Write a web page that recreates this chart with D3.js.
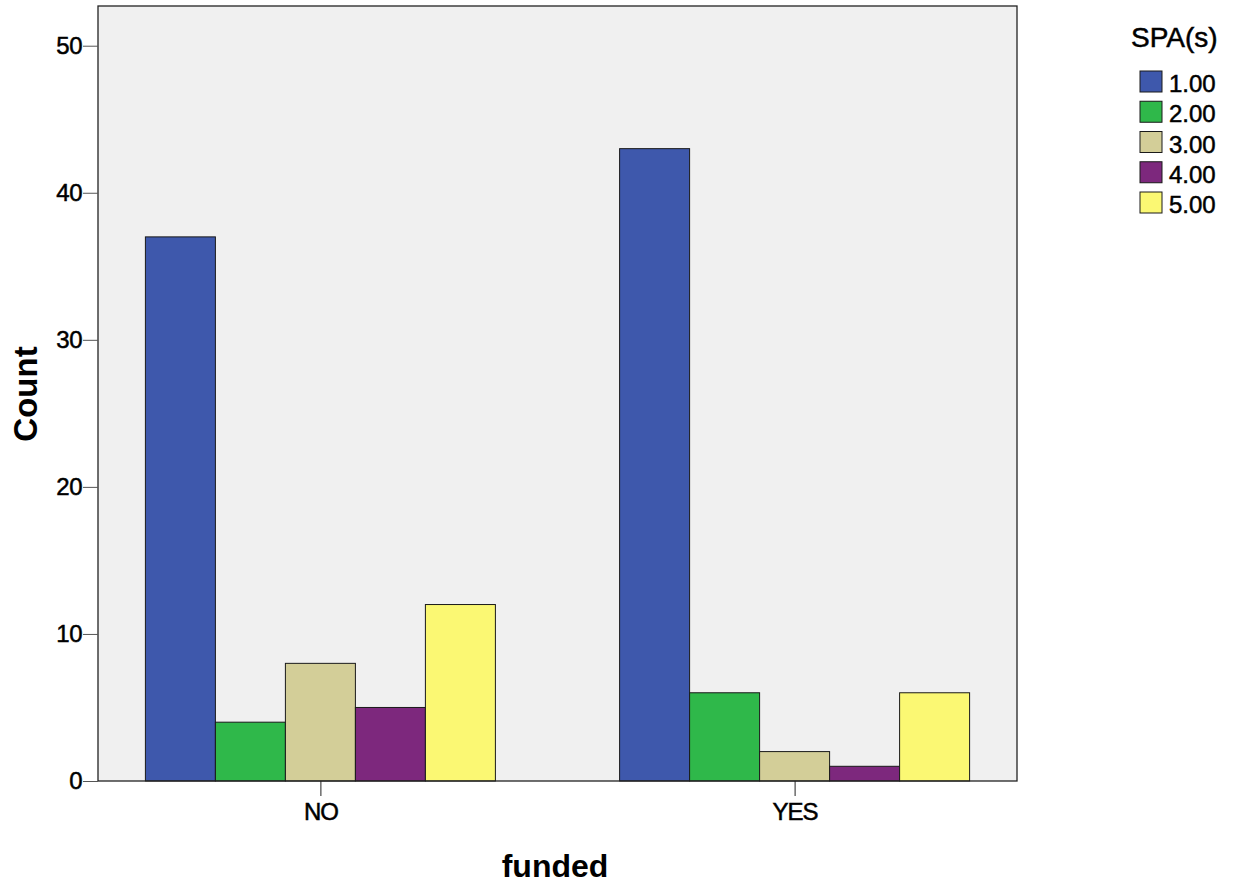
<!DOCTYPE html>
<html><head><meta charset="utf-8">
<script src="https://cdn.jsdelivr.net/npm/d3@7"></script>
<style>body{margin:0;background:#fff;} text{font-family:"Liberation Sans",Arial,sans-serif;}</style>
</head><body>
<svg id="c" width="1234" height="886"></svg>
<script>
const categories = ["NO", "YES"];
const seriesNames = ["1.00", "2.00", "3.00", "4.00", "5.00"];
const valuesNO = [37, 4, 8, 5, 12];
const valuesYES = [43, 6, 2, 1, 6];
const colors = ["#3e58ac", "#2fb84a", "#d3ce98", "#7d287d", "#fbf873"];
const yTicks = [0, 10, 20, 30, 40, 50];

const data = categories.map((c, i) => ({cat: c, vals: [valuesNO, valuesYES][i]}));

const svg = d3.select("#c");
const L = 98, R = 1017, T = 6, B = 781;
const FF = "'Liberation Sans',Arial,sans-serif";

const y = d3.scaleLinear().domain([0, 52.7]).range([B, T]);
const x = d3.scalePoint().domain(categories).range([L, R]).padding(0.469);
const xs = d3.scaleBand().domain(seriesNames).range([-175, 175]);

svg.append("rect").attr("x", L).attr("y", T).attr("width", R - L).attr("height", B - T)
  .attr("fill", "#f0f0f0");

const g = svg.append("g");
data.forEach(d => {
  g.selectAll(null).data(d.vals).enter().append("rect")
    .attr("x", (v, j) => x(d.cat) + xs(seriesNames[j]))
    .attr("y", v => y(v))
    .attr("width", xs.bandwidth())
    .attr("height", v => y(0) - y(v))
    .attr("fill", (v, j) => colors[j])
    .attr("stroke", "#1a1a1a").attr("stroke-width", 1);
});

svg.append("rect").attr("x", L).attr("y", T).attr("width", R - L).attr("height", B - T)
  .attr("fill", "none").attr("stroke", "#222").attr("stroke-width", 1.3);

function styleText(sel, size) {
  sel.attr("font-size", size).attr("fill", "#000").attr("stroke", "#000").attr("stroke-width", 0.5)
    .style("font-family", FF);
}

const yAxis = svg.append("g").attr("transform", `translate(${L},0)`)
  .call(d3.axisLeft(y).tickValues(yTicks).tickSize(15).tickPadding(1).tickFormat(d3.format("d")));
yAxis.select(".domain").remove();
yAxis.selectAll("line").attr("stroke", "#555");
styleText(yAxis.selectAll("text"), 24);
yAxis.selectAll("text").attr("letter-spacing", "-0.5");

const xAxis = svg.append("g").attr("transform", `translate(0,${B})`)
  .call(d3.axisBottom(x).tickSize(15).tickPadding(7));
xAxis.select(".domain").remove();
xAxis.selectAll("line").attr("stroke", "#222");
styleText(xAxis.selectAll("text"), 24);
xAxis.selectAll("text").attr("letter-spacing", "-1");

svg.append("text").attr("transform", "translate(37,394) rotate(-90)")
  .attr("text-anchor", "middle").attr("font-size", 33).attr("font-weight", "bold").text("Count");
svg.append("text").attr("x", 555).attr("y", 877)
  .attr("text-anchor", "middle").attr("font-size", 32).attr("font-weight", "bold").text("funded");

const leg = svg.append("g");
styleText(leg.append("text").attr("x", 1131).attr("y", 47).text("SPA(s)"), 28);
seriesNames.forEach((s, i) => {
  leg.append("rect").attr("x", 1140).attr("y", 71 + i * 30.25).attr("width", 22).attr("height", 21)
    .attr("fill", colors[i]).attr("stroke", "#1a1a1a").attr("stroke-width", 1);
  styleText(leg.append("text").attr("x", 1169).attr("y", 92 + i * 30.25).text(s), 24);
});
</script>
</body></html>
